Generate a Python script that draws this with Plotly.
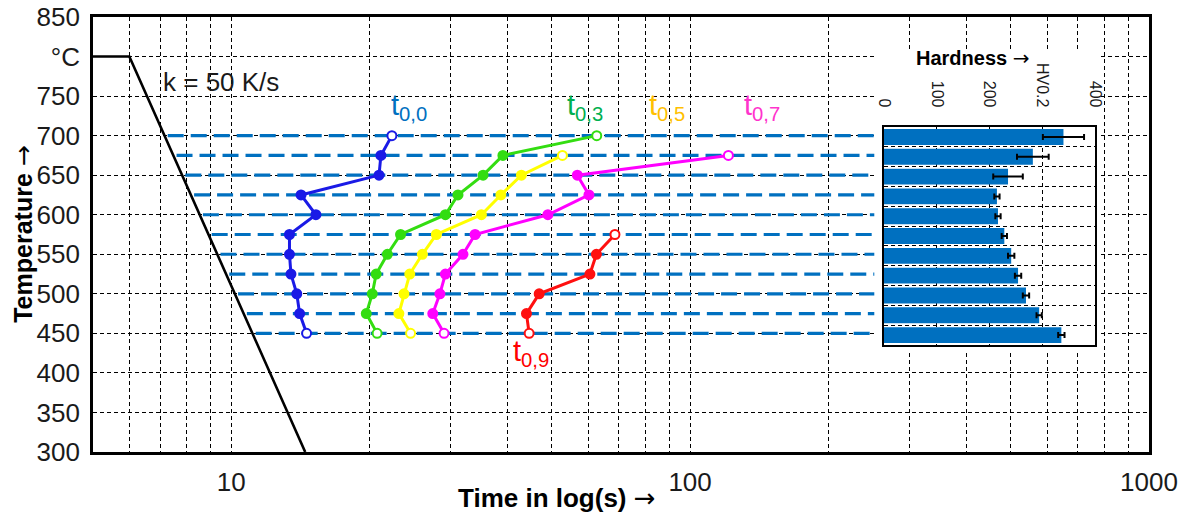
import math
import plotly.graph_objects as go

# ---------------- data ----------------
HOLD_TEMPS = [700, 675, 650, 625, 600, 575, 550, 525, 500, 475, 450]

# isothermal transformation times (s) per hold temperature
T00_TEMPS = [700, 675, 650, 625, 600, 575, 550, 525, 500, 475, 450]
T00_TIME = [22.4, 21.2, 21.0, 14.2, 15.3, 13.4, 13.4, 13.5, 13.9, 14.1, 14.6]

T03_TEMPS = [700, 675, 650, 625, 600, 575, 550, 525, 500, 475, 450]
T03_TIME = [62.6, 39.1, 35.4, 31.2, 29.3, 23.4, 21.9, 20.7, 20.3, 19.7, 20.8]

T05_TEMPS = [675, 650, 625, 600, 575, 550, 525, 500, 475, 450]
T05_TIME = [52.7, 42.9, 38.7, 35.1, 28.0, 26.1, 24.5, 23.8, 23.2, 24.6]

T07_TEMPS = [675, 650, 625, 600, 575, 550, 525, 500, 475, 450]
T07_TIME = [121.2, 56.8, 60.2, 49.0, 34.0, 32.0, 29.3, 28.5, 27.5, 29.1]

T09_TEMPS = [575, 550, 525, 500, 475, 450]
T09_TIME = [68.6, 62.5, 60.5, 46.9, 44.0, 44.6]

# cooling path k = 50 K/s
COOL_TIME = [5, 6, 14.5]
COOL_TEMP = [800, 800, 300]

# hardness HV0.2 per hold temperature (top to bottom)
HARDNESS = [340, 282, 235, 214, 216, 228, 241, 254, 269, 294, 336]
HARDNESS_ERR = [39, 30, 28, 5, 5, 5, 6, 6, 6, 5, 6]

Y_TICKS = [300, 350, 400, 450, 500, 550, 600, 650, 700, 750, 800, 850]
Y_TICKTEXT = ["300", "350", "400", "450", "500", "550", "600", "650", "700", "750", "°C", "850"]
X_GRID = [6, 7, 8, 9, 10, 20, 30, 40, 50, 60, 70, 80, 90, 100,
          200, 300, 400, 500, 600, 700, 800, 900, 1000]
X_LABELS = {10: "10", 100: "100", 1000: "1000"}
H_TICKS = [0, 100, 200, 300, 400]
H_TICKTEXT = ["0", "100", "200", "HV0.2", "400"]

SERIES = [
    ("t<sub>0,0</sub>", T00_TIME, T00_TEMPS, "#1a1ae6", "#0070C0", 24.4, 736),
    ("t<sub>0,3</sub>", T03_TIME, T03_TEMPS, "#33dd11", "#00B050", 59.0, 736),
    ("t<sub>0,5</sub>", T05_TIME, T05_TEMPS, "#ffff00", "#FFC000", 89.1, 736),
    ("t<sub>0,7</sub>", T07_TIME, T07_TEMPS, "#ff00ff", "#FF33CC", 143.6, 736),
    ("t<sub>0,9</sub>", T09_TIME, T09_TEMPS, "#ff1010", "#FF0000", 45.0, 425),
]

FONT = "Arial, Liberation Sans, sans-serif"
ARROW = '<span style="font-family:DejaVu Sans;font-weight:normal">→</span>'
HOLD_END = 255          # end of hold lines (hidden by inset)
BOX_X = [252, 785]      # white panel behind inset
BOX_Y = [429, 808]

fig = go.Figure()

# cooling line
fig.add_trace(go.Scatter(x=COOL_TIME, y=COOL_TEMP, mode="lines",
                         line=dict(color="black", width=2.6), hoverinfo="skip"))

# hold lines starting at the cooling curve
lt0, lt1 = math.log10(COOL_TIME[1]), math.log10(COOL_TIME[2])
hx, hy = [], []
for T in HOLD_TEMPS:
    frac = (COOL_TEMP[1] - T) / (COOL_TEMP[1] - COOL_TEMP[2])
    start = 10 ** (lt0 + frac * (lt1 - lt0) + 0.007)
    hx += [start, HOLD_END, None]
    hy += [T, T, None]
fig.add_trace(go.Scatter(x=hx, y=hy, mode="lines",
                         line=dict(color="#0070C0", width=3.2, dash="16px,7px"),
                         hoverinfo="skip"))

# white panel behind inset
fig.add_trace(go.Scatter(x=[BOX_X[0], BOX_X[1], BOX_X[1], BOX_X[0], BOX_X[0]],
                         y=[BOX_Y[1], BOX_Y[1], BOX_Y[0], BOX_Y[0], BOX_Y[1]],
                         mode="lines", fill="toself", fillcolor="white",
                         line=dict(width=0, color="white"), hoverinfo="skip"))

# transformation curves
for name, times, temps, col, lcol, lx, ly in SERIES:
    n = len(times)
    fills = ["white" if i in (0, n - 1) else col for i in range(n)]
    fig.add_trace(go.Scatter(x=times, y=temps, mode="lines+markers",
                             line=dict(color=col, width=3),
                             marker=dict(symbol="circle", size=9, color=fills,
                                         line=dict(color=col, width=2)),
                             hoverinfo="skip"))
    fig.add_annotation(x=math.log10(lx), y=ly, xref="x", yref="y", text=name,
                       xanchor="center", yanchor="middle",
                       showarrow=False, font=dict(family=FONT, size=29, color=lcol))

# inset hardness bars
fig.add_trace(go.Bar(x=HARDNESS, y=list(range(len(HARDNESS))), orientation="h",
                     xaxis="x2", yaxis="y2", marker=dict(color="#0070C0", line=dict(width=0)),
                     width=0.8,
                     error_x=dict(type="data", array=HARDNESS_ERR, color="black",
                                  thickness=2, width=3),
                     hoverinfo="skip"))

grid = dict(showgrid=True, gridcolor="black", gridwidth=1, griddash="4px,3px",
            zeroline=False, showline=True, linecolor="black", mirror=True,
            automargin=False, ticklabeloverflow="allow")

# page body has an 8px margin, so the figure is sized/offset to compensate
fig.update_layout(
    width=1173, height=508,
    margin=dict(l=85, r=32, t=9, b=64, autoexpand=False),
    paper_bgcolor="white", plot_bgcolor="white",
    showlegend=False,
    font=dict(family=FONT, color="#1a1a1a"),
    xaxis=dict(type="log", range=[math.log10(5), 3], tickvals=X_GRID,
               ticktext=[X_LABELS.get(v, "") for v in X_GRID], ticks="",
               tickfont=dict(size=26, color="#1a1a1a"), ticklabelstandoff=5,
               linewidth=2.6, **grid),
    yaxis=dict(range=[300, 850], tickvals=Y_TICKS, ticktext=Y_TICKTEXT, ticks="",
               tickfont=dict(size=26, color="#1a1a1a"), ticklabelstandoff=5,
               linewidth=2.6, **grid),
    xaxis2=dict(domain=[0.749, 0.949], anchor="y2", side="top", range=[0, 400],
                tickvals=H_TICKS, ticktext=H_TICKTEXT, tickangle=90, ticks="",
                tickfont=dict(size=16, color="#1a1a1a"), ticklabelstandoff=12,
                linewidth=2, **grid),
    yaxis2=dict(domain=[0.246, 0.747], anchor="x2", range=[10.5, -0.5],
                tickvals=[i + 0.5 for i in range(10)], showticklabels=False, ticks="",
                linewidth=2, **grid),
)

# texts
fig.add_annotation(x=math.log10(9.5), y=768, xref="x", yref="y", text="k = 50 K/s",
                   xanchor="center", yanchor="middle",
                   showarrow=False, font=dict(family=FONT, size=26, color="#1a1a1a"))
fig.add_annotation(x=-0.066, y=0.5, xref="paper", yref="paper",
                   text="<b>Temperature " + ARROW + "</b>", xanchor="center", yanchor="middle",
                   textangle=-90, showarrow=False, font=dict(family=FONT, size=25, color="black"))
fig.add_annotation(x=0.439, y=-0.106, xref="paper", yref="paper",
                   text="<b>Time in log(s) " + ARROW + "</b>", xanchor="center", yanchor="middle",
                   showarrow=False, font=dict(family=FONT, size=26, color="black"))
fig.add_annotation(x=0.833, y=0.906, xref="paper", yref="paper",
                   text="<b>Hardness " + ARROW + "</b>", xanchor="center", yanchor="middle",
                   showarrow=False, font=dict(family=FONT, size=20, color="black"))

fig.write_html("out.html")
